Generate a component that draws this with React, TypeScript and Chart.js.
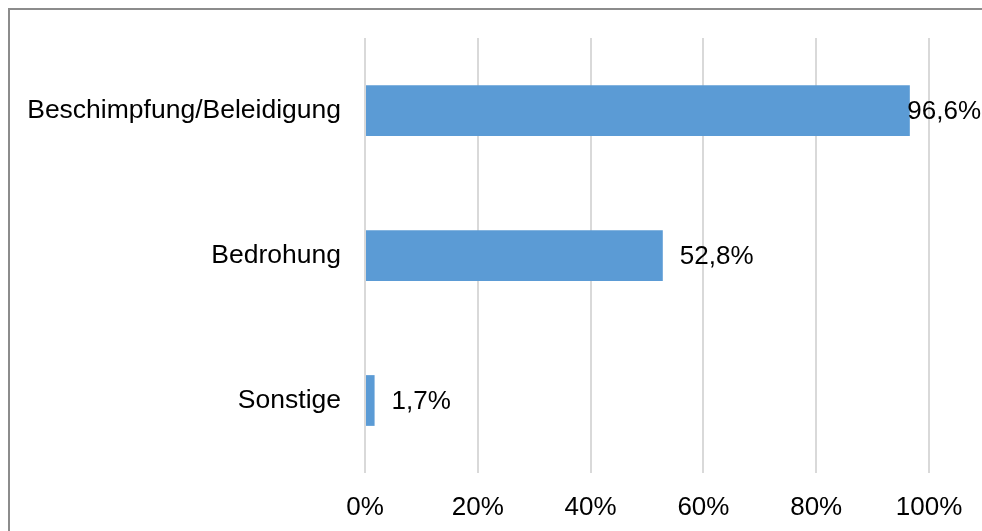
import React, { useEffect, useRef } from "react";
import { Chart, registerables } from "chart.js";

Chart.register(...registerables);

const categories = ["Beschimpfung/Beleidigung", "Bedrohung", "Sonstige"];
const values = [96.6, 52.8, 1.7];
const tickValues = [0, 20, 40, 60, 80, 100];

const FONT = '"Liberation Sans", Arial, sans-serif';

const borderPlugin = {
  id: "frameBorder",
  beforeDraw(chart: any) {
    const ctx = chart.ctx;
    ctx.save();
    ctx.strokeStyle = "#8c8c8c";
    ctx.lineWidth = 2;
    ctx.beginPath();
    ctx.moveTo(1, chart.height);
    ctx.lineTo(1, 1);
    ctx.lineTo(chart.width, 1);
    ctx.stroke();
    ctx.restore();
  },
};

const labelPlugin = {
  id: "barValueLabels",
  afterDatasetsDraw(chart: any) {
    const ctx = chart.ctx;
    const meta = chart.getDatasetMeta(0);
    ctx.save();
    ctx.font = `26px ${FONT}`;
    ctx.fillStyle = "#000000";
    ctx.textAlign = "left";
    ctx.textBaseline = "middle";
    meta.data.forEach((bar: any, i: number) => {
      const txt = values[i].toFixed(1).replace(".", ",") + "%";
      const w = ctx.measureText(txt).width;
      let x = bar.x + 17;
      if (x + w > chart.width - 1) x = chart.width - 1 - w;
      ctx.fillText(txt, x, bar.y + 1);
    });
    ctx.restore();
  },
};

export default function App() {
  const ref = useRef<HTMLCanvasElement | null>(null);

  useEffect(() => {
    document.documentElement.style.overflow = "hidden";
    document.body.style.margin = "8px 0 0 8px";
    if (!ref.current) return;
    const chart = new Chart(ref.current, {
      type: "bar",
      data: {
        labels: categories,
        datasets: [
          {
            data: values,
            backgroundColor: "#5B9BD5",
            borderWidth: 0,
            barPercentage: 0.35,
            categoryPercentage: 1,
          },
        ],
      },
      options: {
        indexAxis: "y",
        animation: false,
        responsive: false,
        maintainAspectRatio: false,
        layout: { padding: { top: 30, right: 53, left: 0, bottom: 0 } },
        plugins: {
          legend: { display: false },
          tooltip: { enabled: false },
        },
        scales: {
          x: {
            min: 0,
            max: 100,
            afterBuildTicks(scale: any) {
              scale.ticks = tickValues.map((v) => ({ value: v }));
            },
            afterFit(scale: any) {
              scale.height = 58;
              scale.paddingLeft = 0;
              scale.paddingRight = 0;
            },
            grid: {
              color: "#d9d9d9",
              lineWidth: 2,
              drawTicks: false,
            },
            border: { display: false },
            ticks: {
              padding: 19,
              color: "#000000",
              font: { family: FONT, size: 26 },
              callback: (v: any) => v + "%",
            },
          },
          y: {
            afterFit(scale: any) {
              scale.width = 357;
              scale.paddingTop = 0;
              scale.paddingBottom = 0;
            },
            grid: { display: false },
            border: { display: false },
            ticks: {
              padding: 16,
              color: "#000000",
              font: { family: FONT, size: 26.5 },
            },
          },
        },
      },
      plugins: [borderPlugin, labelPlugin],
    });
    return () => chart.destroy();
  }, []);

  return (
    <div style={{ width: 974, height: 523, position: "relative" }}>
      <canvas ref={ref} width={974} height={523} style={{ display: "block" }} />
    </div>
  );
}
